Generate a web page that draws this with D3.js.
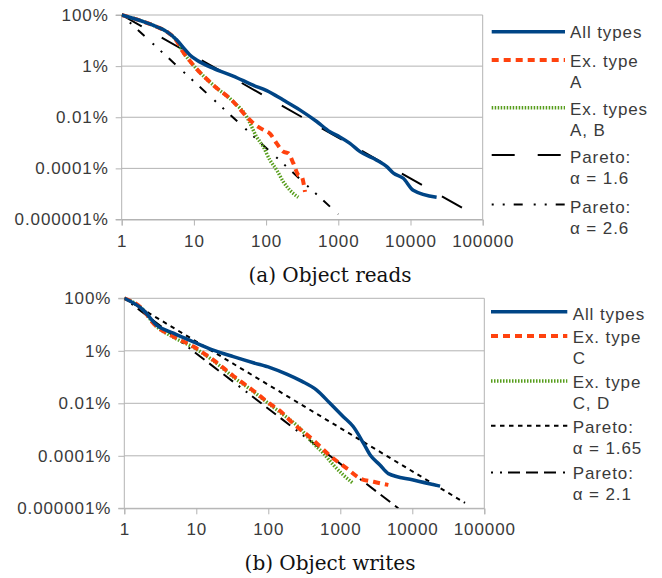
<!DOCTYPE html>
<html>
<head>
<meta charset="utf-8">
<script src="https://cdn.jsdelivr.net/npm/d3@7/dist/d3.min.js"></script>
<style>
  html, body { margin: 0; padding: 0; background: #fff; }
  svg { display: block; }
  .tick text, .lg text { font-family: "Liberation Sans", Arial, sans-serif; font-size: 17px; letter-spacing: 0.9px; fill: #3a3a3a; }
  .cap { font-family: "DejaVu Serif", serif; font-size: 20px; fill: #111; }
</style>
</head>
<body>
<svg id="chart" width="662" height="578"></svg>
<script>
// ---------- data (x = count, y = percent) ----------
const xTicks = [1, 10, 100, 1000, 10000, 100000];
const xTickLabels = ["1", "10", "100", "1000", "10000", "100000"];
const yTicks = [100, 1, 0.01, 0.0001, 0.000001];
const yTickLabels = ["100%", "1%", "0.01%", "0.0001%", "0.000001%"];

// (a) Object reads
const readsAll = [[1,100],[2,55],[3.05,34.7],[4.2,22.4],[5.8,10.5],[7.5,4.5],[8.8,2.7],[10.9,1.74],[18.6,0.81],[35,0.41],[66,0.18],[102,0.11],[173,0.047],[296,0.019],[502,0.0068],[767,0.0027],[1050,0.0017],[1450,0.00095],[2000,0.00045],[3400,0.00021],[4700,0.000117],[5800,0.000065],[7950,0.000041],[10900,0.000014],[23000,0.0000074]];
const readsExA = [[1,100],[2,55],[3.05,34.7],[4.2,22.4],[5.8,9.5],[6.8,4.3],[9.8,1.1],[18.6,0.18],[35,0.041],[53.8,0.0105],[66.5,0.0058],[91.5,0.0032],[113,0.0023],[140,0.00095],[173,0.00045],[203,0.00039],[238,0.00016],[279,0.000055],[311,0.000047],[346,0.000012]];
const readsExAB = [[1,100],[2,55],[3.05,34.7],[4.2,22.4],[5.8,9.5],[6.8,4.3],[9.8,1.1],[18.6,0.18],[35,0.041],[53.8,0.0105],[74,0.0017],[91.5,0.0007],[113,0.00021],[140,0.000087],[173,0.00003],[214,0.000014],[279,0.0000074]];
const readsPareto16 = [[1,100],[54000,0.0000027]];
const readsPareto26 = [[1,100],[1000,0.0000016]];

// (b) Object writes
const writesAll = [[1,100],[1.84,35.5],[2.82,9.5],[4.8,4.7],[9.1,2.2],[17.2,1.07],[32.7,0.6],[62,0.35],[106,0.23],[180,0.13],[290,0.07],[470,0.032],[720,0.01],[1100,0.0031],[1510,0.0013],[2100,0.0003],[2600,0.000107],[3550,0.000045],[4650,0.000021],[10350,0.000012],[24300,0.000007]];
const writesExC = [[1,100],[1.84,35.5],[2.53,11.2],[4.8,3.5],[9.1,1.45],[17.2,0.45],[32.7,0.11],[62,0.03],[106,0.0095],[145,0.0052],[222,0.0017],[420,0.0004],[720,0.0001],[1230,0.000033],[1880,0.0000138],[2900,0.0000102],[4650,0.0000078]];
const writesExCD = [[1,100],[1.84,35.5],[2.53,11.2],[4.8,3.3],[9.1,1.35],[17.2,0.42],[32.7,0.1],[62,0.028],[106,0.0088],[145,0.0046],[276,0.0011],[420,0.0003],[580,0.000126],[800,0.000045],[1100,0.0000186],[1510,0.0000089]];
const writesPareto165 = [[1,100],[54000,0.0000016]];
const writesPareto21 = [[1,100],[6400,0.000001]];

// ---------- styles ----------
const STY = {
  all:  {stroke:"#004586", width:3.5, dash:null, curve:true},
  exA:  {stroke:"#ff420e", width:4, dash:"7,5", curve:true},
  exAB: {stroke:"#579d1c", width:3.5, dash:"1.5,1.5", curve:true},
  p16:  {stroke:"#000", width:2, dash:"23,23", curve:false},
  p26:  {stroke:"#000", width:2, dash:"2,9,2,9,9,11", curve:false},
  p165: {stroke:"#000", width:2, dash:"4.5,4.5", curve:false},
  p21:  {stroke:"#000", width:2, dash:"2,7,2,6,12,6,12,6,12,7", curve:false}
};

const svg = d3.select("#chart");
svg.append("rect").attr("width",662).attr("height",578).attr("fill","#fff");

function panel(cfg) {
  const g = svg.append("g");
  const x = d3.scaleLog().domain([1, 100000]).range([cfg.x0, cfg.x1]);
  const y = d3.scaleLog().domain([0.000001, 100]).range([cfg.y1, cfg.y0]);

  // gridlines
  g.selectAll("line.grid").data(yTicks).join("line")
    .attr("x1", cfg.x0).attr("x2", cfg.x1)
    .attr("y1", d => y(d)).attr("y2", d => y(d))
    .attr("stroke", "#b3b3b3").attr("stroke-width", 1);
  // right border
  g.append("line").attr("x1", cfg.x1).attr("x2", cfg.x1).attr("y1", cfg.y0).attr("y2", cfg.y1)
    .attr("stroke", "#b3b3b3");

  // axes
  const ya = g.append("g").attr("transform", `translate(${cfg.x0},0)`)
    .call(d3.axisLeft(y).tickValues(yTicks).tickFormat((d,i) => yTickLabels[i]).tickSize(6).tickPadding(7));
  const xa = g.append("g").attr("transform", `translate(0,${cfg.y1})`)
    .call(d3.axisBottom(x).tickValues(xTicks).tickFormat((d,i) => xTickLabels[i]).tickSize(6).tickPadding(9));
  [ya, xa].forEach(a => {
    a.select(".domain").attr("stroke", "#b3b3b3");
    a.selectAll(".tick line").attr("stroke", "#b3b3b3");
    a.selectAll(".tick text").attr("fill", "#3a3a3a").style("font-family", null).style("font-size", null);
    a.attr("font-family", null).attr("font-size", null);
  });
  ya.select(".domain").attr("d", `M-6,${cfg.y1}H0V${cfg.y0}H-6`);

  // series (drawn last-first so "All types" sits on top)
  const lineC = d3.line().x(d => x(d[0])).y(d => y(d[1])).curve(d3.curveMonotoneX);
  const lineL = d3.line().x(d => x(d[0])).y(d => y(d[1]));
  const clipId = "clip" + cfg.id;
  svg.append("clipPath").attr("id", clipId).append("rect")
    .attr("x", cfg.x0).attr("y", cfg.y0 - 4).attr("width", cfg.x1 - cfg.x0).attr("height", cfg.y1 - cfg.y0 + 4);
  const sg = g.append("g").attr("clip-path", `url(#${clipId})`);
  cfg.series.slice().reverse().forEach(s => {
    const st = STY[s.style];
    sg.append("path").datum(s.data)
      .attr("d", st.curve ? lineC : lineL)
      .attr("fill", "none").attr("stroke", st.stroke).attr("stroke-width", st.width)
      .attr("stroke-dasharray", st.dash).attr("stroke-linejoin", "round");
  });

  // legend
  const lg = g.append("g").attr("class", "lg");
  cfg.series.forEach(s => {
    const st = STY[s.style];
    lg.append("line").attr("x1", cfg.lx0).attr("x2", cfg.lx1).attr("y1", s.ly).attr("y2", s.ly)
      .attr("stroke", st.stroke).attr("stroke-width", st.width).attr("stroke-dasharray", st.dash);
    const t = lg.append("text").attr("x", cfg.tx).attr("y", s.ty);
    s.label.forEach((ln, i) => {
      t.append("tspan").attr("x", cfg.tx).attr("dy", i === 0 ? 0 : 21).text(ln);
    });
  });

  // caption
  svg.append("text").attr("class", "cap").attr("x", 330).attr("y", cfg.capY)
    .attr("text-anchor", "middle").text(cfg.caption);
}

panel({
  id: "a", x0: 121.7, x1: 482.7, y0: 15, y1: 219.5,
  lx0: 491.7, lx1: 565, tx: 570, capY: 281.5, caption: "(a) Object reads",
  series: [
    {data: readsAll, style: "all", label: ["All types"], ly: 31.7, ty: 38.3},
    {data: readsExA, style: "exA", label: ["Ex. type", "A"], ly: 60, ty: 66.7},
    {data: readsExAB, style: "exAB", label: ["Ex. types", "A, B"], ly: 107.7, ty: 115},
    {data: readsPareto16, style: "p16", label: ["Pareto:", "α = 1.6"], ly: 155, ty: 163.3},
    {data: readsPareto26, style: "p26", label: ["Pareto:", "α = 2.6"], ly: 204.5, ty: 212.5}
  ]
});

panel({
  id: "b", x0: 124.3, x1: 484.3, y0: 298.3, y1: 508.3,
  lx0: 491, lx1: 567.3, tx: 572.7, capY: 570, caption: "(b) Object writes",
  series: [
    {data: writesAll, style: "all", label: ["All types"], ly: 311.7, ty: 320},
    {data: writesExC, style: "exA", label: ["Ex. type", "C"], ly: 336, ty: 343.3},
    {data: writesExCD, style: "exAB", label: ["Ex. type", "C, D"], ly: 381, ty: 388.3},
    {data: writesPareto165, style: "p165", label: ["Pareto:", "α = 1.65"], ly: 425.7, ty: 433.3},
    {data: writesPareto21, style: "p21", label: ["Pareto:", "α = 2.1"], ly: 472.5, ty: 479.3}
  ]
});
</script>
</body>
</html>
